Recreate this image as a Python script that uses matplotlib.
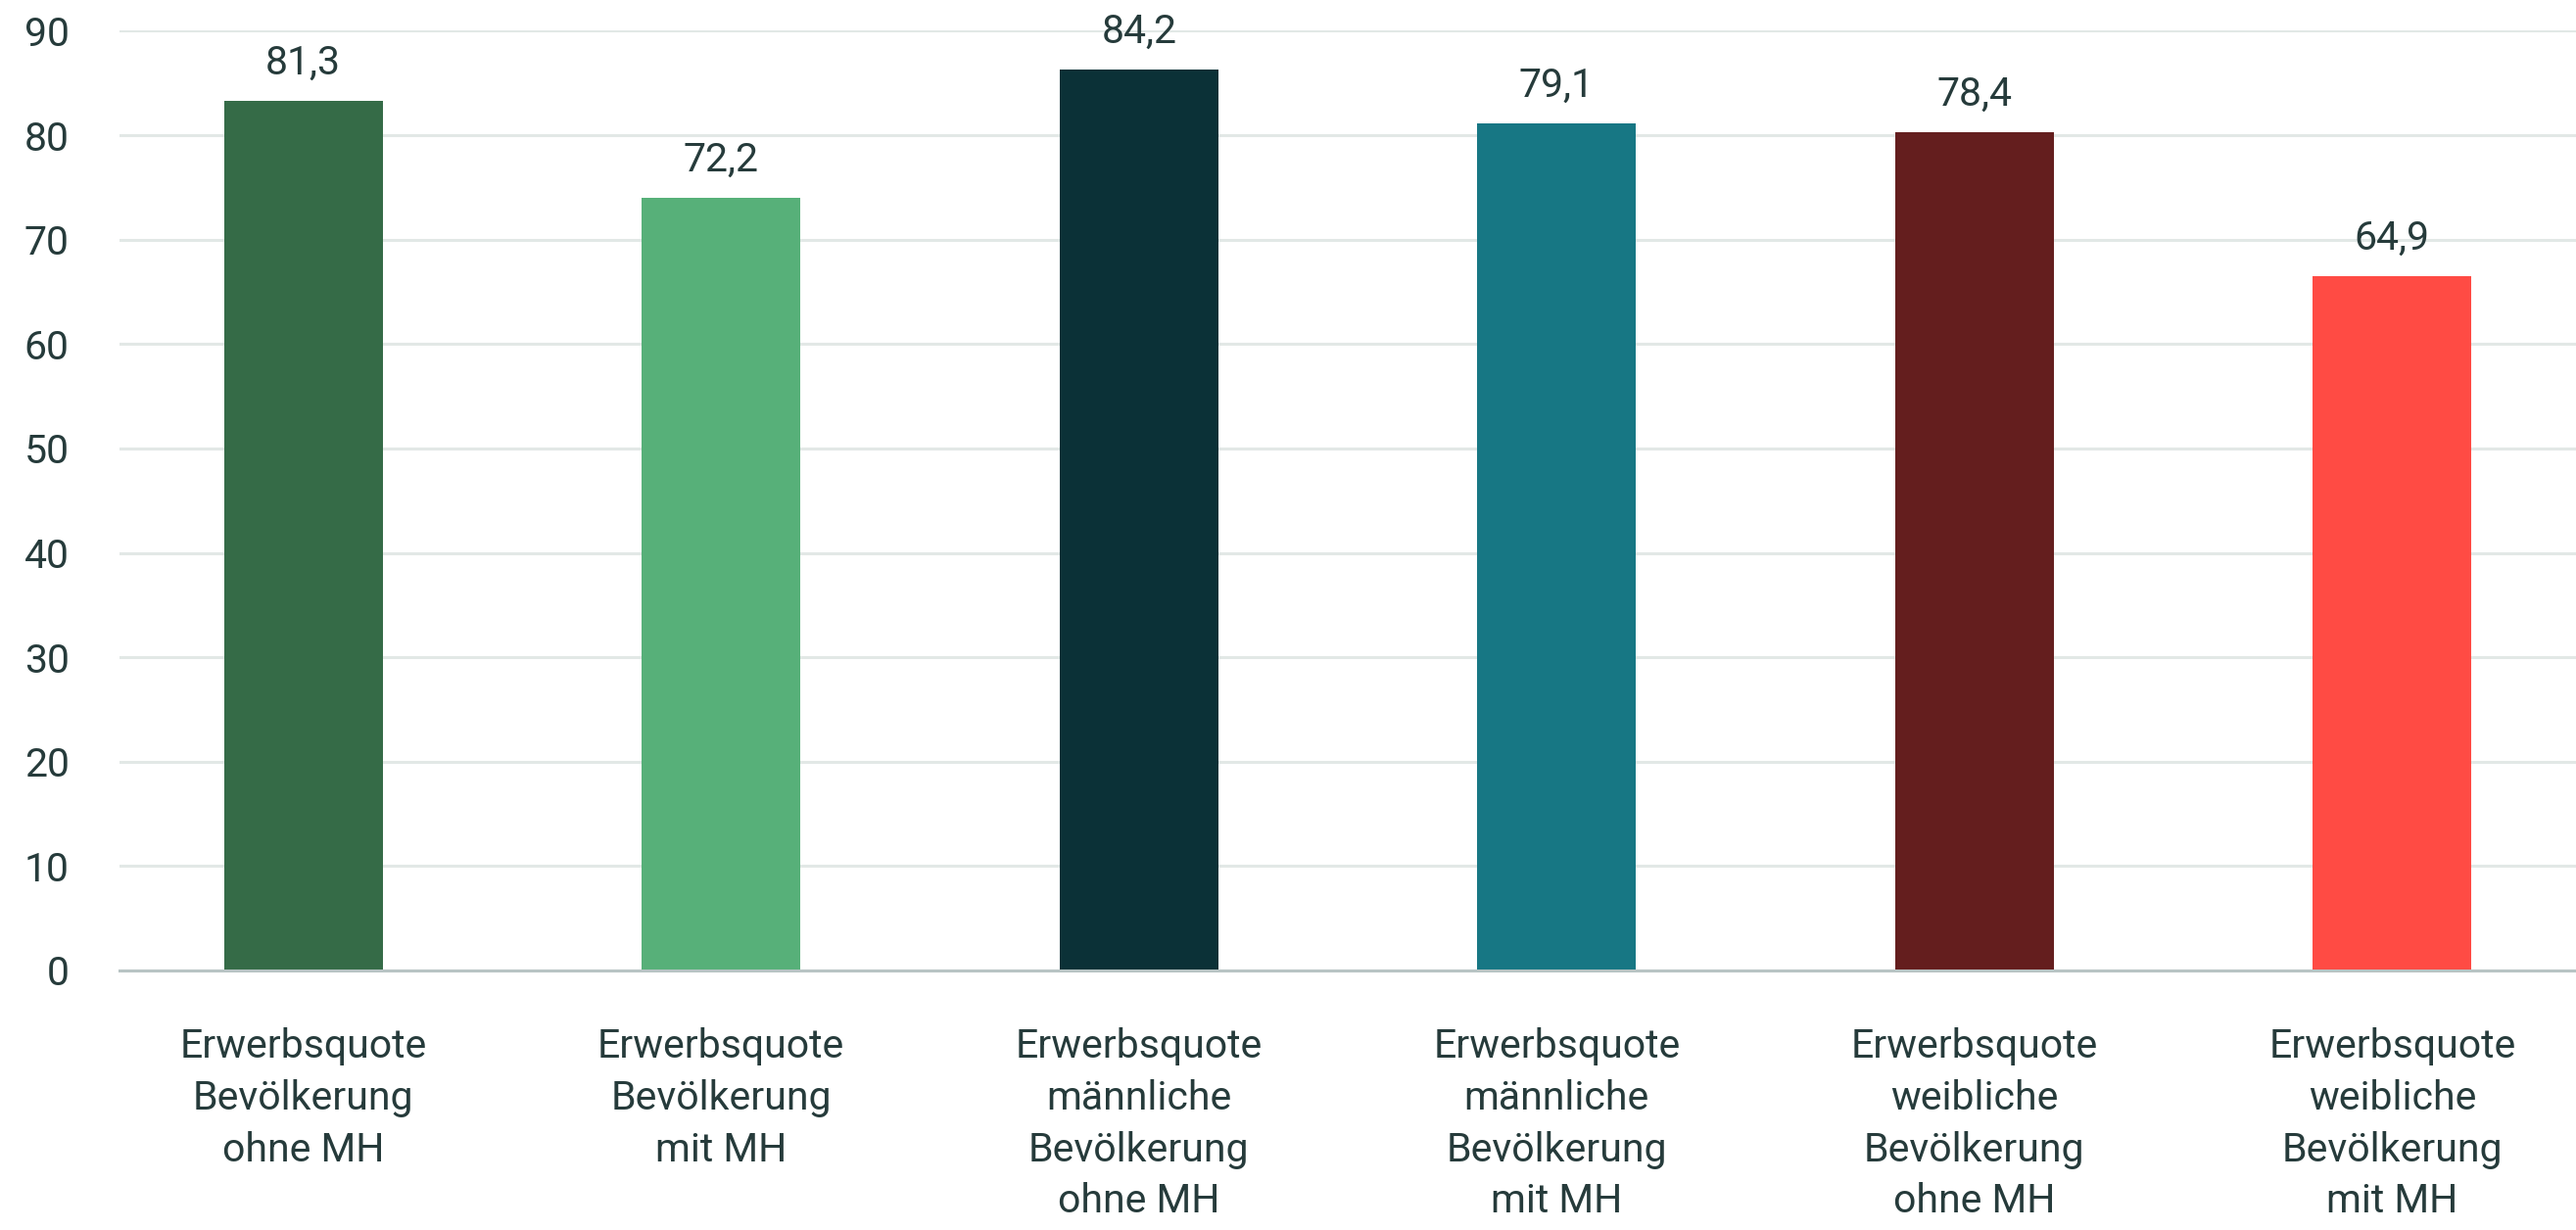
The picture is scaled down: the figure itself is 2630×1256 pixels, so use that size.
import matplotlib.pyplot as plt
import numpy as np

categories = [
    "Erwerbsquote\nBevölkerung\nohne MH",
    "Erwerbsquote\nBevölkerung\nmit MH",
    "Erwerbsquote\nmännliche\nBevölkerung\nohne MH",
    "Erwerbsquote\nmännliche\nBevölkerung\nmit MH",
    "Erwerbsquote\nweibliche\nBevölkerung\nohne MH",
    "Erwerbsquote\nweibliche\nBevölkerung\nmit MH",
]
# bar heights; the printed labels differ in the source
bar_heights = [83.3, 74.0, 86.3, 81.1, 80.3, 66.5]
value_labels = ["81,3", "72,2", "84,2", "79,1", "78,4", "64,9"]
colors = ["#356b47", "#57b079", "#0b3137", "#177784", "#641e1e", "#ff4b44"]
y_ticks = [0, 10, 20, 30, 40, 50, 60, 70, 80, 90]

text_color = "#263b3b"
plt.rcParams["font.family"] = ["Roboto", "DejaVu Sans"]

fig = plt.figure(figsize=(26.3, 12.56), dpi=100)
ax = fig.add_axes([0.0464, 0.211, 0.9536, 0.764])

x = np.arange(len(categories))
bars = ax.bar(x, bar_heights, width=0.38, color=colors, zorder=3)

for rect, lab in zip(bars, value_labels):
    ax.annotate(lab, (rect.get_x() + rect.get_width() / 2, rect.get_height()),
                xytext=(0, 19.5), textcoords="offset points",
                ha="center", va="baseline", fontsize=29.5, color=text_color)

ax.set_xlim(-0.44, len(categories) - 0.56)
ax.set_ylim(0, 90)
ax.set_yticks(y_ticks)
ax.set_xticks(x)
ax.set_xticklabels(categories, fontsize=29.5, color=text_color, linespacing=1.44)
ax.tick_params(axis="y", length=0, pad=37, labelsize=29.5, labelcolor=text_color)
ax.tick_params(axis="x", length=0, pad=42)

ax.grid(axis="y", color="#e2e8e6", linewidth=2.2, zorder=0)
ax.set_axisbelow(True)
for side in ["left", "right", "top"]:
    ax.spines[side].set_visible(False)
ax.spines["bottom"].set_color("#b8c4c4")
ax.spines["bottom"].set_linewidth(2.2)
ax.spines["bottom"].set_zorder(4)

fig.savefig("out.png", dpi=100)
